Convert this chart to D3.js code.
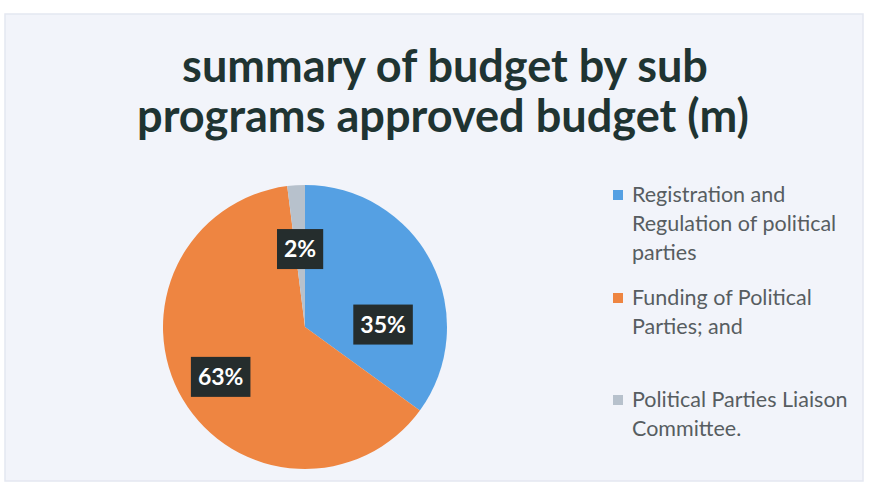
<!DOCTYPE html>
<html>
<head>
<meta charset="utf-8">
<script src="https://cdn.jsdelivr.net/npm/d3@7"></script>
<style>
  html, body { margin: 0; padding: 0; background: #ffffff; }
  svg { display: block; }
</style>
</head>
<body>
<svg id="chart" width="871" height="491"></svg>
<script>
// ---- data ----
const titleLines = ["summary of budget by sub", "programs approved budget (m)"];
const categories = [
  "Registration and Regulation of political parties",
  "Funding of Political Parties; and",
  "Political Parties Liaison Committee."
];
const legendLines = [
  ["Registration and", "Regulation of political", "parties"],
  ["Funding of Political", "Parties; and"],
  ["Political Parties Liaison", "Committee."]
];
const values = [35, 63, 2];
const colors = ["#55a0e3", "#ee8541", "#b7c1cc"];

// ---- drawing ----
const svg = d3.select("#chart");

// slide background
svg.append("rect")
  .attr("x", 5).attr("y", 14).attr("width", 858).attr("height", 467)
  .attr("fill", "#f2f4fa").attr("stroke", "#e4e7f1").attr("stroke-width", 1.5);

const fitText = (sel, target) => {
  sel.each(function () {
    const w = this.getComputedTextLength();
    const fs = parseFloat(d3.select(this).attr("font-size"));
    d3.select(this).attr("font-size", fs * target / w);
  });
};

// title
const titleG = svg.append("g");
const t1 = titleG.append("text")
  .attr("x", 445).attr("y", 82).attr("text-anchor", "middle")
  .attr("font-family", "Lato, 'Open Sans', sans-serif").attr("font-weight", 700)
  .attr("font-size", 42).attr("fill", "#1f3432").text(titleLines[0]);
fitText(t1, 526);
const t2 = titleG.append("text")
  .attr("x", 443).attr("y", 132).attr("text-anchor", "middle")
  .attr("font-family", "Lato, 'Open Sans', sans-serif").attr("font-weight", 700)
  .attr("font-size", 42).attr("fill", "#1f3432").text(titleLines[1]);
fitText(t2, 612);

// pie
const cx = 305, cy = 327, R = 142;
const pie = d3.pie().sort(null).value(d => d)(values);
const arc = d3.arc().innerRadius(0).outerRadius(R);
const g = svg.append("g").attr("transform", `translate(${cx},${cy})`);
g.selectAll("path.slice").data(pie).enter().append("path")
  .attr("class", "slice")
  .attr("d", arc)
  .attr("fill", (d, i) => colors[i]);

// data labels (dark boxes)
const total = d3.sum(values);
const labelPos = (d, i) => {
  let a = (d.startAngle + d.endAngle) / 2;
  let r = i === 1 ? R * 0.69 : R * 0.55;
  if (i === 0) a += 0.44;
  return [r * Math.sin(a), -r * Math.cos(a)];
};
const lbl = g.selectAll("g.lbl").data(pie).enter().append("g")
  .attr("class", "lbl")
  .attr("transform", (d, i) => `translate(${labelPos(d, i)})`);
lbl.append("text")
  .attr("text-anchor", "middle").attr("dy", "0.36em")
  .attr("font-family", "Lato, 'Open Sans', sans-serif").attr("font-weight", 700)
  .attr("font-size", 23).attr("fill", "#ffffff")
  .text(d => Math.round(d.value / total * 100) + "%")
  .each(function () {
    const bb = this.getBBox();
    d3.select(this.parentNode).insert("rect", "text")
      .attr("x", bb.x - 7).attr("y", -20)
      .attr("width", bb.width + 14).attr("height", 40)
      .attr("fill", "#252d2d");
  });

// legend
const legend = svg.append("g");
const legendY = [202, 305, 407];
const lineH = 29;
legendLines.forEach((lines, i) => {
  legend.append("rect")
    .attr("x", 613).attr("y", legendY[i] - 12).attr("width", 10).attr("height", 10)
    .attr("fill", colors[i]);
  lines.forEach((ln, j) => {
    legend.append("text")
      .attr("x", 632).attr("y", legendY[i] + j * lineH)
      .attr("font-family", "Lato, 'Open Sans', sans-serif")
      .attr("font-size", 21.5).attr("fill", "#575d61")
      .text(ln);
  });
});
</script>
</body>
</html>
